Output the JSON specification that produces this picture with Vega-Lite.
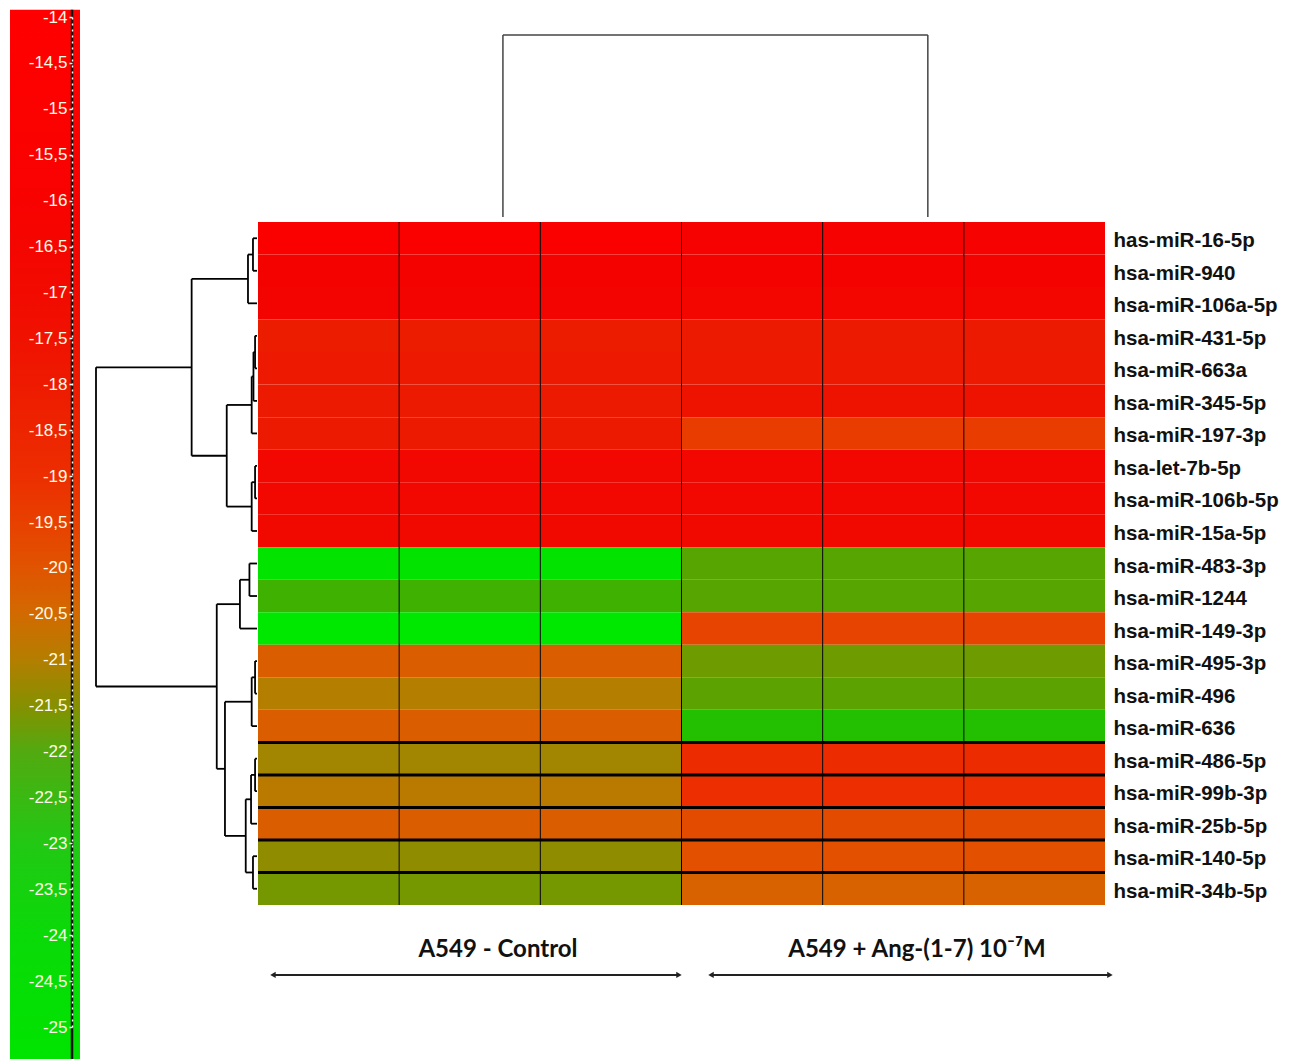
{
  "$schema": "https://vega.github.io/schema/vega-lite/v6.json",
  "width": 847,
  "height": 683,
  "autosize": {"type": "none"},
  "padding": {"left": 258, "top": 222, "right": 195, "bottom": 154},
  "background": "white",
  "config": {"view": {"stroke": null}},
  "datasets": {
    "cells": [
      {"g":"has-miR-16-5p","s":"Control 1","v":-15.0},{"g":"has-miR-16-5p","s":"Control 2","v":-15.0},{"g":"has-miR-16-5p","s":"Control 3","v":-15.0},{"g":"has-miR-16-5p","s":"Ang 1","v":-15.6},{"g":"has-miR-16-5p","s":"Ang 2","v":-15.6},{"g":"has-miR-16-5p","s":"Ang 3","v":-15.6},
      {"g":"hsa-miR-940","s":"Control 1","v":-16.0},{"g":"hsa-miR-940","s":"Control 2","v":-16.0},{"g":"hsa-miR-940","s":"Control 3","v":-16.0},{"g":"hsa-miR-940","s":"Ang 1","v":-16.0},{"g":"hsa-miR-940","s":"Ang 2","v":-16.0},{"g":"hsa-miR-940","s":"Ang 3","v":-16.0},
      {"g":"hsa-miR-106a-5p","s":"Control 1","v":-16.2},{"g":"hsa-miR-106a-5p","s":"Control 2","v":-16.2},{"g":"hsa-miR-106a-5p","s":"Control 3","v":-16.2},{"g":"hsa-miR-106a-5p","s":"Ang 1","v":-16.3},{"g":"hsa-miR-106a-5p","s":"Ang 2","v":-16.3},{"g":"hsa-miR-106a-5p","s":"Ang 3","v":-16.3},
      {"g":"hsa-miR-431-5p","s":"Control 1","v":-18.0},{"g":"hsa-miR-431-5p","s":"Control 2","v":-18.0},{"g":"hsa-miR-431-5p","s":"Control 3","v":-18.0},{"g":"hsa-miR-431-5p","s":"Ang 1","v":-17.9},{"g":"hsa-miR-431-5p","s":"Ang 2","v":-17.9},{"g":"hsa-miR-431-5p","s":"Ang 3","v":-17.9},
      {"g":"hsa-miR-663a","s":"Control 1","v":-17.8},{"g":"hsa-miR-663a","s":"Control 2","v":-17.8},{"g":"hsa-miR-663a","s":"Control 3","v":-17.8},{"g":"hsa-miR-663a","s":"Ang 1","v":-17.8},{"g":"hsa-miR-663a","s":"Ang 2","v":-17.8},{"g":"hsa-miR-663a","s":"Ang 3","v":-17.8},
      {"g":"hsa-miR-345-5p","s":"Control 1","v":-17.9},{"g":"hsa-miR-345-5p","s":"Control 2","v":-17.9},{"g":"hsa-miR-345-5p","s":"Control 3","v":-17.9},{"g":"hsa-miR-345-5p","s":"Ang 1","v":-17.4},{"g":"hsa-miR-345-5p","s":"Ang 2","v":-17.4},{"g":"hsa-miR-345-5p","s":"Ang 3","v":-17.4},
      {"g":"hsa-miR-197-3p","s":"Control 1","v":-17.9},{"g":"hsa-miR-197-3p","s":"Control 2","v":-17.9},{"g":"hsa-miR-197-3p","s":"Control 3","v":-17.9},{"g":"hsa-miR-197-3p","s":"Ang 1","v":-19.4},{"g":"hsa-miR-197-3p","s":"Ang 2","v":-19.4},{"g":"hsa-miR-197-3p","s":"Ang 3","v":-19.4},
      {"g":"hsa-let-7b-5p","s":"Control 1","v":-16.6},{"g":"hsa-let-7b-5p","s":"Control 2","v":-16.6},{"g":"hsa-let-7b-5p","s":"Control 3","v":-16.6},{"g":"hsa-let-7b-5p","s":"Ang 1","v":-16.6},{"g":"hsa-let-7b-5p","s":"Ang 2","v":-16.6},{"g":"hsa-let-7b-5p","s":"Ang 3","v":-16.6},
      {"g":"hsa-miR-106b-5p","s":"Control 1","v":-16.6},{"g":"hsa-miR-106b-5p","s":"Control 2","v":-16.6},{"g":"hsa-miR-106b-5p","s":"Control 3","v":-16.6},{"g":"hsa-miR-106b-5p","s":"Ang 1","v":-16.6},{"g":"hsa-miR-106b-5p","s":"Ang 2","v":-16.6},{"g":"hsa-miR-106b-5p","s":"Ang 3","v":-16.6},
      {"g":"hsa-miR-15a-5p","s":"Control 1","v":-16.7},{"g":"hsa-miR-15a-5p","s":"Control 2","v":-16.7},{"g":"hsa-miR-15a-5p","s":"Control 3","v":-16.7},{"g":"hsa-miR-15a-5p","s":"Ang 1","v":-16.7},{"g":"hsa-miR-15a-5p","s":"Ang 2","v":-16.7},{"g":"hsa-miR-15a-5p","s":"Ang 3","v":-16.7},
      {"g":"hsa-miR-483-3p","s":"Control 1","v":-24.6},{"g":"hsa-miR-483-3p","s":"Control 2","v":-24.6},{"g":"hsa-miR-483-3p","s":"Control 3","v":-24.6},{"g":"hsa-miR-483-3p","s":"Ang 1","v":-22.1},{"g":"hsa-miR-483-3p","s":"Ang 2","v":-22.1},{"g":"hsa-miR-483-3p","s":"Ang 3","v":-22.1},
      {"g":"hsa-miR-1244","s":"Control 1","v":-22.5},{"g":"hsa-miR-1244","s":"Control 2","v":-22.5},{"g":"hsa-miR-1244","s":"Control 3","v":-22.5},{"g":"hsa-miR-1244","s":"Ang 1","v":-22.1},{"g":"hsa-miR-1244","s":"Ang 2","v":-22.1},{"g":"hsa-miR-1244","s":"Ang 3","v":-22.1},
      {"g":"hsa-miR-149-3p","s":"Control 1","v":-25.0},{"g":"hsa-miR-149-3p","s":"Control 2","v":-25.0},{"g":"hsa-miR-149-3p","s":"Control 3","v":-25.0},{"g":"hsa-miR-149-3p","s":"Ang 1","v":-19.6},{"g":"hsa-miR-149-3p","s":"Ang 2","v":-19.6},{"g":"hsa-miR-149-3p","s":"Ang 3","v":-19.6},
      {"g":"hsa-miR-495-3p","s":"Control 1","v":-20.2},{"g":"hsa-miR-495-3p","s":"Control 2","v":-20.2},{"g":"hsa-miR-495-3p","s":"Control 3","v":-20.2},{"g":"hsa-miR-495-3p","s":"Ang 1","v":-21.8},{"g":"hsa-miR-495-3p","s":"Ang 2","v":-21.8},{"g":"hsa-miR-495-3p","s":"Ang 3","v":-21.8},
      {"g":"hsa-miR-496","s":"Control 1","v":-21.0},{"g":"hsa-miR-496","s":"Control 2","v":-21.0},{"g":"hsa-miR-496","s":"Control 3","v":-21.0},{"g":"hsa-miR-496","s":"Ang 1","v":-22.0},{"g":"hsa-miR-496","s":"Ang 2","v":-22.0},{"g":"hsa-miR-496","s":"Ang 3","v":-22.0},
      {"g":"hsa-miR-636","s":"Control 1","v":-20.2},{"g":"hsa-miR-636","s":"Control 2","v":-20.2},{"g":"hsa-miR-636","s":"Control 3","v":-20.2},{"g":"hsa-miR-636","s":"Ang 1","v":-23.0},{"g":"hsa-miR-636","s":"Ang 2","v":-23.0},{"g":"hsa-miR-636","s":"Ang 3","v":-23.0},
      {"g":"hsa-miR-486-5p","s":"Control 1","v":-21.2},{"g":"hsa-miR-486-5p","s":"Control 2","v":-21.2},{"g":"hsa-miR-486-5p","s":"Control 3","v":-21.2},{"g":"hsa-miR-486-5p","s":"Ang 1","v":-18.9},{"g":"hsa-miR-486-5p","s":"Ang 2","v":-18.9},{"g":"hsa-miR-486-5p","s":"Ang 3","v":-18.9},
      {"g":"hsa-miR-99b-3p","s":"Control 1","v":-20.9},{"g":"hsa-miR-99b-3p","s":"Control 2","v":-20.9},{"g":"hsa-miR-99b-3p","s":"Control 3","v":-20.9},{"g":"hsa-miR-99b-3p","s":"Ang 1","v":-19.0},{"g":"hsa-miR-99b-3p","s":"Ang 2","v":-19.0},{"g":"hsa-miR-99b-3p","s":"Ang 3","v":-19.0},
      {"g":"hsa-miR-25b-5p","s":"Control 1","v":-20.2},{"g":"hsa-miR-25b-5p","s":"Control 2","v":-20.2},{"g":"hsa-miR-25b-5p","s":"Control 3","v":-20.2},{"g":"hsa-miR-25b-5p","s":"Ang 1","v":-19.8},{"g":"hsa-miR-25b-5p","s":"Ang 2","v":-19.8},{"g":"hsa-miR-25b-5p","s":"Ang 3","v":-19.8},
      {"g":"hsa-miR-140-5p","s":"Control 1","v":-21.4},{"g":"hsa-miR-140-5p","s":"Control 2","v":-21.4},{"g":"hsa-miR-140-5p","s":"Control 3","v":-21.4},{"g":"hsa-miR-140-5p","s":"Ang 1","v":-19.9},{"g":"hsa-miR-140-5p","s":"Ang 2","v":-19.9},{"g":"hsa-miR-140-5p","s":"Ang 3","v":-19.9},
      {"g":"hsa-miR-34b-5p","s":"Control 1","v":-21.7},{"g":"hsa-miR-34b-5p","s":"Control 2","v":-21.7},{"g":"hsa-miR-34b-5p","s":"Control 3","v":-21.7},{"g":"hsa-miR-34b-5p","s":"Ang 1","v":-20.3},{"g":"hsa-miR-34b-5p","s":"Ang 2","v":-20.3},{"g":"hsa-miR-34b-5p","s":"Ang 3","v":-20.3}
    ],
    "vlines": [{"s":"Control 2"},{"s":"Control 3"},{"s":"Ang 1"},{"s":"Ang 2"},{"s":"Ang 3"}],
    "hlines": [{"g":"hsa-miR-486-5p"},{"g":"hsa-miR-99b-3p"},{"g":"hsa-miR-25b-5p"},{"g":"hsa-miR-140-5p"},{"g":"hsa-miR-34b-5p"}],
    "legendbar": [{"top": -13.92, "bottom": -25.35, "left": 0, "right": 1, "line": 0.886}],
    "dendro": [
      {"d1":0,"d2":0.25,"r1":0.5,"r2":0.5},{"d1":0,"d2":0.25,"r1":1.5,"r2":1.5},{"d1":0.25,"d2":0.25,"r1":0.5,"r2":1.5},
      {"d1":0.25,"d2":0.56,"r1":1.0,"r2":1.0},{"d1":0,"d2":0.56,"r1":2.5,"r2":2.5},{"d1":0.56,"d2":0.56,"r1":1.0,"r2":2.5},
      {"d1":0,"d2":0.12,"r1":3.5,"r2":3.5},{"d1":0,"d2":0.12,"r1":4.5,"r2":4.5},{"d1":0.12,"d2":0.12,"r1":3.5,"r2":4.5},
      {"d1":0.12,"d2":0.22,"r1":4.0,"r2":4.0},{"d1":0,"d2":0.22,"r1":5.5,"r2":5.5},{"d1":0.22,"d2":0.22,"r1":4.0,"r2":5.5},
      {"d1":0.22,"d2":0.33,"r1":4.75,"r2":4.75},{"d1":0,"d2":0.33,"r1":6.5,"r2":6.5},{"d1":0.33,"d2":0.33,"r1":4.75,"r2":6.5},
      {"d1":0,"d2":0.12,"r1":7.5,"r2":7.5},{"d1":0,"d2":0.12,"r1":8.5,"r2":8.5},{"d1":0.12,"d2":0.12,"r1":7.5,"r2":8.5},
      {"d1":0.12,"d2":0.33,"r1":8.0,"r2":8.0},{"d1":0,"d2":0.33,"r1":9.5,"r2":9.5},{"d1":0.33,"d2":0.33,"r1":8.0,"r2":9.5},
      {"d1":0.33,"d2":1.88,"r1":5.625,"r2":5.625},{"d1":0.33,"d2":1.88,"r1":8.75,"r2":8.75},{"d1":1.88,"d2":1.88,"r1":5.625,"r2":8.75},
      {"d1":0.56,"d2":4.06,"r1":1.75,"r2":1.75},{"d1":1.88,"d2":4.06,"r1":7.1875,"r2":7.1875},{"d1":4.06,"d2":4.06,"r1":1.75,"r2":7.1875},
      {"d1":0,"d2":0.47,"r1":10.5,"r2":10.5},{"d1":0,"d2":0.47,"r1":11.5,"r2":11.5},{"d1":0.47,"d2":0.47,"r1":10.5,"r2":11.5},
      {"d1":0.47,"d2":1.06,"r1":11.0,"r2":11.0},{"d1":0,"d2":1.06,"r1":12.5,"r2":12.5},{"d1":1.06,"d2":1.06,"r1":11.0,"r2":12.5},
      {"d1":0,"d2":0.12,"r1":13.5,"r2":13.5},{"d1":0,"d2":0.12,"r1":14.5,"r2":14.5},{"d1":0.12,"d2":0.12,"r1":13.5,"r2":14.5},
      {"d1":0.12,"d2":0.33,"r1":14.0,"r2":14.0},{"d1":0,"d2":0.33,"r1":15.5,"r2":15.5},{"d1":0.33,"d2":0.33,"r1":14.0,"r2":15.5},
      {"d1":0,"d2":0.12,"r1":16.5,"r2":16.5},{"d1":0,"d2":0.12,"r1":17.5,"r2":17.5},{"d1":0.12,"d2":0.12,"r1":16.5,"r2":17.5},
      {"d1":0.12,"d2":0.37,"r1":17.0,"r2":17.0},{"d1":0,"d2":0.37,"r1":18.5,"r2":18.5},{"d1":0.37,"d2":0.37,"r1":17.0,"r2":18.5},
      {"d1":0,"d2":0.25,"r1":19.5,"r2":19.5},{"d1":0,"d2":0.25,"r1":20.5,"r2":20.5},{"d1":0.25,"d2":0.25,"r1":19.5,"r2":20.5},
      {"d1":0.37,"d2":0.70,"r1":17.75,"r2":17.75},{"d1":0.25,"d2":0.70,"r1":20.0,"r2":20.0},{"d1":0.70,"d2":0.70,"r1":17.75,"r2":20.0},
      {"d1":0.33,"d2":1.99,"r1":14.75,"r2":14.75},{"d1":0.70,"d2":1.99,"r1":18.875,"r2":18.875},{"d1":1.99,"d2":1.99,"r1":14.75,"r2":18.875},
      {"d1":1.06,"d2":2.5,"r1":11.75,"r2":11.75},{"d1":1.99,"d2":2.5,"r1":16.8125,"r2":16.8125},{"d1":2.5,"d2":2.5,"r1":11.75,"r2":16.8125},
      {"d1":4.06,"d2":10,"r1":4.46875,"r2":4.46875},{"d1":2.5,"d2":10,"r1":14.28125,"r2":14.28125},{"d1":10,"d2":10,"r1":4.46875,"r2":14.28125}
    ],
    "topdendro": [
      {"c1":1.735,"c2":1.735,"h1":0,"h2":1},
      {"c1":4.745,"c2":4.745,"h1":0,"h2":1},
      {"c1":1.735,"c2":4.745,"h1":1,"h2":1}
    ],
    "groups": [
      {"label":"A549 - Control","cx":1.70,"ry":22.38},
      {"label":"A549 + Ang-(1-7) 10⁻⁷M","cx":4.668,"ry":22.38}
    ],
    "arrows": [
      {"a":0.106,"b":2.982,"ry":23.15},
      {"a":3.209,"b":6.035,"ry":23.15}
    ],
    "heads": [
      {"x":0.106,"ry":23.15,"sh":"triangle-left"},
      {"x":2.982,"ry":23.15,"sh":"triangle-right"},
      {"x":3.209,"ry":23.15,"sh":"triangle-left"},
      {"x":6.035,"ry":23.15,"sh":"triangle-right"}
    ]
  },
  "resolve": {"scale": {"x": "independent", "y": "independent", "color": "independent"}, "axis": {"x": "independent", "y": "independent"}},
  "layer": [
    {
      "layer": [
        {
          "data": {"name": "cells"},
          "mark": {"type": "rect"},
          "encoding": {
            "x": {"field": "s", "type": "nominal", "scale": {"domain": ["Control 1","Control 2","Control 3","Ang 1","Ang 2","Ang 3"], "paddingInner": 0, "paddingOuter": 0}, "axis": null},
            "y": {"field": "g", "type": "nominal", "scale": {"domain": ["has-miR-16-5p","hsa-miR-940","hsa-miR-106a-5p","hsa-miR-431-5p","hsa-miR-663a","hsa-miR-345-5p","hsa-miR-197-3p","hsa-let-7b-5p","hsa-miR-106b-5p","hsa-miR-15a-5p","hsa-miR-483-3p","hsa-miR-1244","hsa-miR-149-3p","hsa-miR-495-3p","hsa-miR-496","hsa-miR-636","hsa-miR-486-5p","hsa-miR-99b-3p","hsa-miR-25b-5p","hsa-miR-140-5p","hsa-miR-34b-5p"], "paddingInner": 0, "paddingOuter": 0},
              "axis": {"orient": "right", "title": null, "ticks": false, "domain": false, "labelPadding": 8, "labelOffset": 3, "labelFontSize": 20.5, "labelFont": "Liberation Sans", "labelFontWeight": "bold", "labelColor": "#111111", "labelLimit": 0}},
            "color": {"field": "v", "type": "quantitative", "legend": null,
              "scale": {"interpolate": "rgb",
                "domain": [-25,-24,-23,-22,-21.5,-21,-20.5,-20,-19.5,-19,-18,-17,-16,-14],
                "range": ["#00e800","#08dc00","#22c000","#5ca200","#869000","#b47e00","#d26a00","#e05400","#e84000","#ec2e00","#ec1c00","#f00c00","#f40200","#ff0000"]}}
          }
        },
        {
          "data": {"name": "vlines"},
          "mark": {"type": "rule", "color": "#000000", "strokeWidth": 1},
          "encoding": {"x": {"field": "s", "type": "nominal", "bandPosition": 0}}
        },
        {
          "data": {"name": "hlines"},
          "mark": {"type": "rule", "color": "#000000", "strokeWidth": 3},
          "encoding": {"y": {"field": "g", "type": "nominal", "bandPosition": 0}}
        }
      ]
    },
    {
      "data": {"name": "legendbar"},
      "mark": {"type": "rect", "color": {"gradient": "linear", "x1": 0, "y1": 0, "x2": 0, "y2": 1, "stops": [
        {"offset": 0, "color": "#ff0000"},
        {"offset": 0.182, "color": "#f80200"},
        {"offset": 0.269, "color": "#f20a00"},
        {"offset": 0.357, "color": "#ee1a00"},
        {"offset": 0.444, "color": "#ec2e00"},
        {"offset": 0.488, "color": "#e84000"},
        {"offset": 0.532, "color": "#e05400"},
        {"offset": 0.576, "color": "#d26a00"},
        {"offset": 0.619, "color": "#b47e00"},
        {"offset": 0.663, "color": "#869000"},
        {"offset": 0.707, "color": "#52aa10"},
        {"offset": 0.794, "color": "#22c814"},
        {"offset": 0.882, "color": "#0ada08"},
        {"offset": 1, "color": "#00e400"}]}},
      "encoding": {
        "x": {"field": "left", "type": "quantitative", "scale": {"domain": [0, 1], "range": [-248, -178], "nice": false, "zero": false}, "axis": null},
        "x2": {"field": "right"},
        "y": {"field": "top", "type": "quantitative", "scale": {"domain": [-25, -14], "range": [805, -205], "nice": false, "zero": false},
          "axis": {"orient": "left", "offset": 186, "title": null, "grid": false, "zindex": 2,
            "values": [-14,-14.5,-15,-15.5,-16,-16.5,-17,-17.5,-18,-18.5,-19,-19.5,-20,-20.5,-21,-21.5,-22,-22.5,-23,-23.5,-24,-24.5,-25],
            "labelExpr": "replace(toString(datum.value), '.', ',')",
            "labelColor": "#fffbe6", "labelFont": "Liberation Sans Narrow, Liberation Sans, sans-serif", "labelFontSize": 17,
            "labelPadding": 2, "labelOverlap": false, "labelFlush": false, "labelBound": false,
            "tickColor": "#ffffff", "tickSize": 3, "tickWidth": 1.5,
            "domainColor": "#ffffff", "domainWidth": 1.5, "domainDash": [2, 4]}},
        "y2": {"field": "bottom"}
      }
    },
    {
      "data": {"name": "legendbar"},
      "mark": {"type": "rule", "color": "#111111", "strokeWidth": 2.5},
      "encoding": {
        "x": {"field": "line", "type": "quantitative", "scale": {"domain": [0, 1], "range": [-248, -178], "nice": false, "zero": false}, "axis": null},
        "y": {"field": "top", "type": "quantitative", "scale": {"domain": [-25, -14], "range": [805, -205], "nice": false, "zero": false}, "axis": null},
        "y2": {"field": "bottom"}
      }
    },
    {
      "data": {"name": "dendro"},
      "mark": {"type": "rule", "color": "#000000", "strokeWidth": 1.8},
      "encoding": {
        "x": {"field": "d1", "type": "quantitative", "scale": {"domain": [0, 10], "range": [-1, -162], "nice": false, "zero": false}, "axis": null},
        "x2": {"field": "d2"},
        "y": {"field": "r1", "type": "quantitative", "scale": {"domain": [0, 21], "range": [0, 683], "nice": false, "zero": false}, "axis": null},
        "y2": {"field": "r2"}
      }
    },
    {
      "data": {"name": "topdendro"},
      "mark": {"type": "rule", "color": "#444444", "strokeWidth": 1.5},
      "encoding": {
        "x": {"field": "c1", "type": "quantitative", "scale": {"domain": [0, 6], "range": [0, 847], "nice": false, "zero": false}, "axis": null},
        "x2": {"field": "c2"},
        "y": {"field": "h1", "type": "quantitative", "scale": {"domain": [0, 1], "range": [-5, -187], "nice": false, "zero": false}, "axis": null},
        "y2": {"field": "h2"}
      }
    },
    {
      "layer": [
        {
          "data": {"name": "groups"},
          "mark": {"type": "text", "font": "Lato", "fontWeight": "bold", "fontSize": 24, "color": "#111111", "baseline": "middle", "align": "center"},
          "encoding": {
            "x": {"field": "cx", "type": "quantitative", "scale": {"domain": [0, 6], "range": [0, 847], "nice": false, "zero": false}, "axis": null},
            "y": {"field": "ry", "type": "quantitative", "scale": {"domain": [0, 21], "range": [0, 683], "nice": false, "zero": false}, "axis": null},
            "text": {"field": "label"}
          }
        },
        {
          "data": {"name": "arrows"},
          "mark": {"type": "rule", "color": "#222222", "strokeWidth": 2},
          "encoding": {
            "x": {"field": "a", "type": "quantitative"},
            "x2": {"field": "b"},
            "y": {"field": "ry", "type": "quantitative"}
          }
        },
        {
          "data": {"name": "heads"},
          "mark": {"type": "point", "filled": true, "color": "#222222", "size": 40, "opacity": 1},
          "encoding": {
            "x": {"field": "x", "type": "quantitative"},
            "y": {"field": "ry", "type": "quantitative"},
            "shape": {"field": "sh", "type": "nominal", "scale": null}
          }
        }
      ]
    }
  ]
}
